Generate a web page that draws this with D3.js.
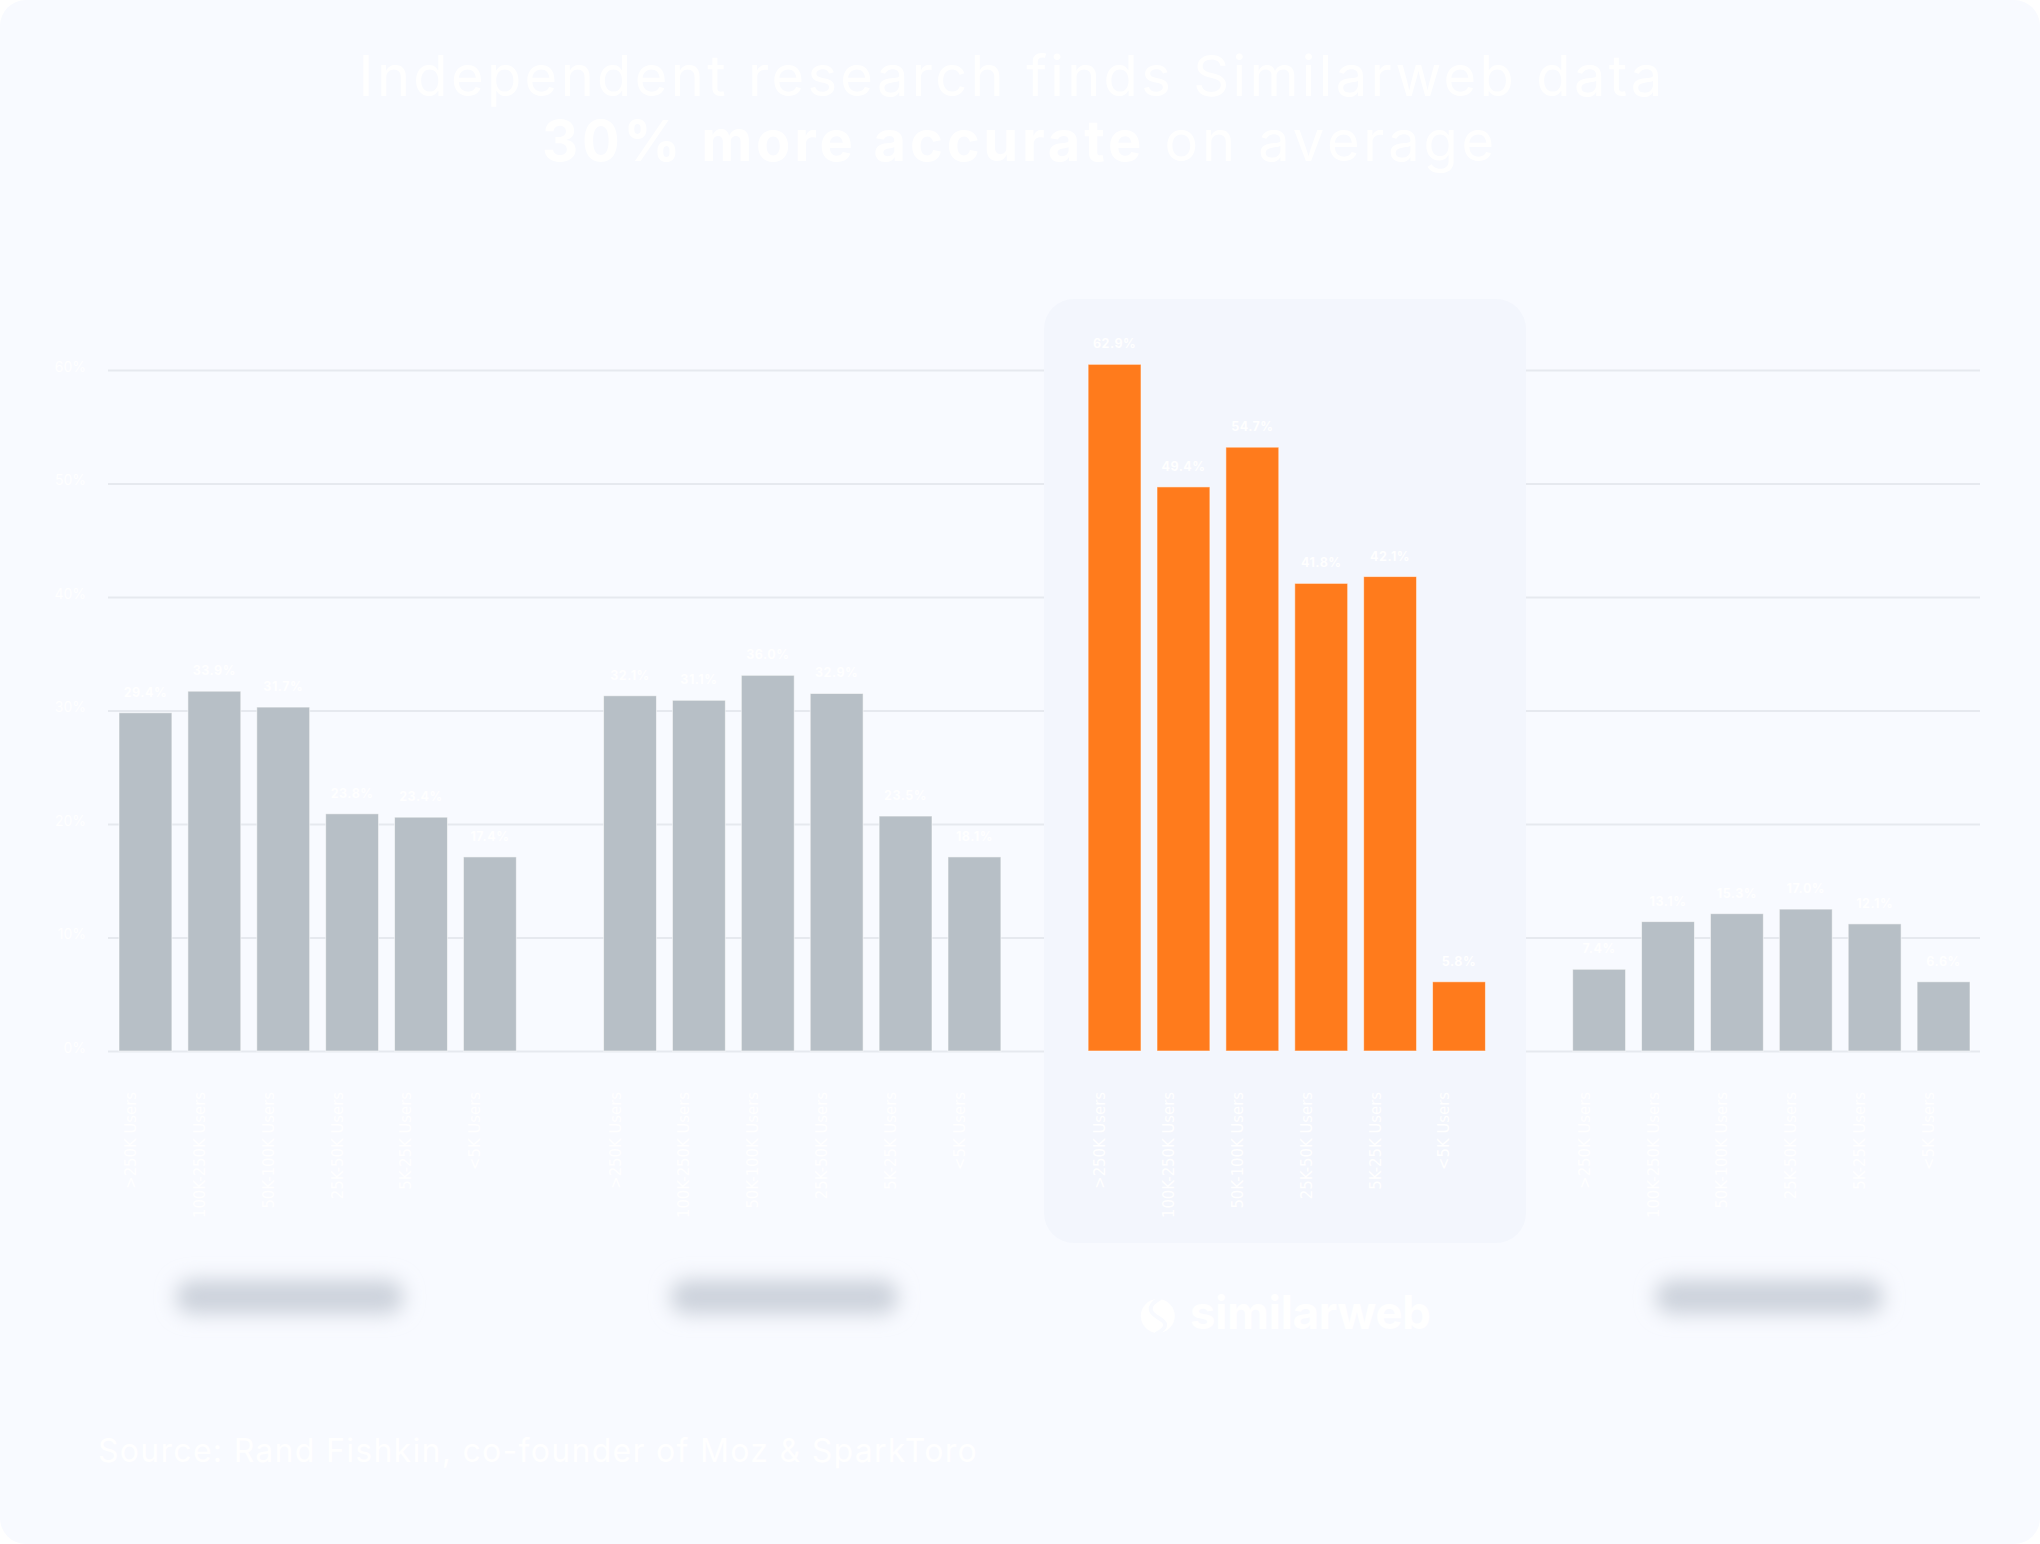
<!DOCTYPE html>
<html>
<head>
<meta charset="utf-8">
<script src="https://cdn.jsdelivr.net/npm/d3@7"></script>
<style>
  html, body { margin: 0; padding: 0; background: #ffffff; }
  svg { display: block; }
</style>
</head>
<body>
<div id="chart"></div>
<script>
// accuracy chart, four providers x six traffic buckets

// categories (traffic buckets)
const buckets = [">250K Users", "100K-250K Users", "50K-100K Users", "25K-50K Users", "5K-25K Users", "<5K Users"];
const providers = ["competitorA", "competitorB", "similarweb", "competitorC"];

// bar heights as drawn in the picture (%)
const competitorA = [29.8, 31.7, 30.3, 20.9, 20.6, 17.1];
const competitorB = [31.3, 30.9, 33.1, 31.5, 20.7, 17.1];
const similarweb  = [60.5, 49.7, 53.2, 41.2, 41.8, 6.1];
const competitorC = [7.2, 11.4, 12.1, 12.5, 11.2, 6.1];

// value labels printed above the bars
const competitorALabels = ["29.4%", "33.9%", "31.7%", "23.8%", "23.4%", "17.4%"];
const competitorBLabels = ["32.1%", "31.1%", "36.0%", "32.9%", "23.5%", "18.1%"];
const similarwebLabels  = ["62.9%", "49.4%", "54.7%", "41.8%", "42.1%", "5.8%"];
const competitorCLabels = ["7.4%", "13.1%", "15.3%", "17.0%", "12.1%", "6.6%"];

const yTicks = [0, 10, 20, 30, 40, 50, 60];

const series = [competitorA, competitorB, similarweb, competitorC];
const seriesLabels = [competitorALabels, competitorBLabels, similarwebLabels, competitorCLabels];

// page
const W = 2040, H = 1544;
const bg = "#f8faff";
const panelFill = "#f3f6fd";
const grey = "#b7bfc6";
const orange = "#ff7b1c";
const font = "Inter, 'Open Sans', sans-serif";

const svg = d3.select("#chart")
    .append("svg")
    .attr("width", W)
    .attr("height", H);

const defs = svg.append("defs");
defs.append("filter")
    .attr("id", "blur")
    .attr("x", "-50%").attr("y", "-100%")
    .attr("width", "200%").attr("height", "300%")
    .append("feGaussianBlur")
    .attr("stdDeviation", 10);

// stretch a text line to the width it has in the picture
function fitWidth(sel, target) {
    const node = sel.node();
    const n = node.textContent.length;
    const w = node.getBBox().width;
    sel.style("letter-spacing", ((target - w) / n) + "px");
}

// card
svg.append("rect")
    .attr("width", W).attr("height", H)
    .attr("rx", 26)
    .attr("fill", bg);

// title
const title1 = svg.append("text")
    .attr("x", W / 2 - 8).attr("y", 96)
    .attr("text-anchor", "middle")
    .attr("fill", "#ffffff")
    .style("font-family", font)
    .style("font-size", "56px")
    .text("Independent research finds Similarweb data");
fitWidth(title1, 1307);

const title2 = svg.append("text")
    .attr("x", W / 2).attr("y", 161)
    .attr("text-anchor", "middle")
    .attr("fill", "#ffffff")
    .style("font-family", font)
    .style("font-size", "56px");
title2.append("tspan").style("font-weight", 700).text("30% more accurate");
title2.append("tspan").text(" on average");
fitWidth(title2, 956);

// scales
const x0 = d3.scaleBand()
    .domain(providers)
    .range([119, 1970])
    .paddingInner(0.18);

const x1 = d3.scaleBand()
    .domain(d3.range(buckets.length))
    .range([0, x0.bandwidth()])
    .paddingInner(0.232);

const y = d3.scaleLinear()
    .domain([0, 60])
    .range([1051, 370]);

// grid + y labels
const yAxis = svg.append("g")
    .attr("transform", "translate(108,0)")
    .call(d3.axisLeft(y)
        .tickValues(yTicks)
        .tickSize(-(1980 - 108))
        .tickPadding(22)
        .tickFormat(d => d + "%"));
yAxis.select(".domain").remove();
yAxis.selectAll(".tick line")
    .attr("stroke", "#e6e9ef")
    .attr("stroke-width", 2);
yAxis.selectAll(".tick text")
    .attr("fill", "#ffffff")
    .style("font-family", font)
    .style("font-size", "14px")
    .attr("dy", "0.1em");

// highlight panel behind the similarweb group
svg.append("rect")
    .attr("x", 1044).attr("y", 299)
    .attr("width", 482).attr("height", 944)
    .attr("rx", 30)
    .attr("fill", panelFill);

// bars
providers.forEach((p, gi) => {
    const g = svg.append("g")
        .attr("transform", "translate(" + x0(p) + ",0)");
    const color = p === "similarweb" ? orange : grey;

    g.selectAll("rect")
        .data(series[gi])
        .enter()
        .append("rect")
        .attr("x", (d, i) => x1(i))
        .attr("y", d => y(d))
        .attr("width", x1.bandwidth())
        .attr("height", d => y(0) - y(d))
        .attr("fill", color)
        .attr("stroke", "rgba(255,255,255,0.55)")
        .attr("stroke-width", 1);

    g.selectAll(".val")
        .data(series[gi])
        .enter()
        .append("text")
        .attr("class", "val")
        .attr("x", (d, i) => x1(i) + x1.bandwidth() / 2)
        .attr("y", d => y(d) - 16)
        .attr("text-anchor", "middle")
        .attr("fill", "#ffffff")
        .style("font-family", font)
        .style("font-size", "12.5px")
        .style("font-weight", 700)
        .style("letter-spacing", "0.5px")
        .text((d, i) => seriesLabels[gi][i]);

    g.selectAll(".cat")
        .data(buckets)
        .enter()
        .append("text")
        .attr("class", "cat")
        .attr("transform", (d, i) => "translate(" + (x1(i) + x1.bandwidth() / 2 - 9.5) + ",1092) rotate(-90)")
        .attr("text-anchor", "end")
        .attr("fill", "#ffffff")
        .style("font-family", "'Liberation Sans Narrow', 'DejaVu Sans Condensed', sans-serif")
        .style("font-size", "16.5px")
        .text(d => d);
});

// blurred competitor logos
const pillOffset = { competitorA: -28, competitorB: -18, competitorC: -2 };
Object.keys(pillOffset).forEach(p => {
    const cx = x0(p) + x0.bandwidth() / 2 + pillOffset[p];
    svg.append("rect")
        .attr("x", cx - 114).attr("y", 1280)
        .attr("width", 228).attr("height", 34)
        .attr("rx", 17)
        .attr("fill", "#ccd2db")
        .attr("filter", "url(#blur)");
});

// similarweb logo
const logo = svg.append("g")
    .attr("transform", "translate(" + (x0("similarweb") + x0.bandwidth() / 2 - 129) + ",1316)");
logo.append("circle")
    .attr("r", 17)
    .attr("fill", "#ffffff");
logo.append("path")
    .attr("d", "M3,-18 C-14,-9 -6,-2 1,2 C8,6 12,11 -2,18")
    .attr("fill", "none")
    .attr("stroke", bg)
    .attr("stroke-width", 4);
logo.append("text")
    .attr("x", 32).attr("y", 13)
    .attr("fill", "#ffffff")
    .style("font-family", font)
    .style("font-size", "46px")
    .style("font-weight", 700)
    .style("letter-spacing", "-0.5px")
    .text("similarweb");

// source
const source = svg.append("text")
    .attr("x", 98).attr("y", 1462)
    .attr("fill", "#ffffff")
    .style("font-family", font)
    .style("font-size", "32px")
    .text("Source: Rand Fishkin, co-founder of Moz & SparkToro");
fitWidth(source, 880);
</script>
</body>
</html>
